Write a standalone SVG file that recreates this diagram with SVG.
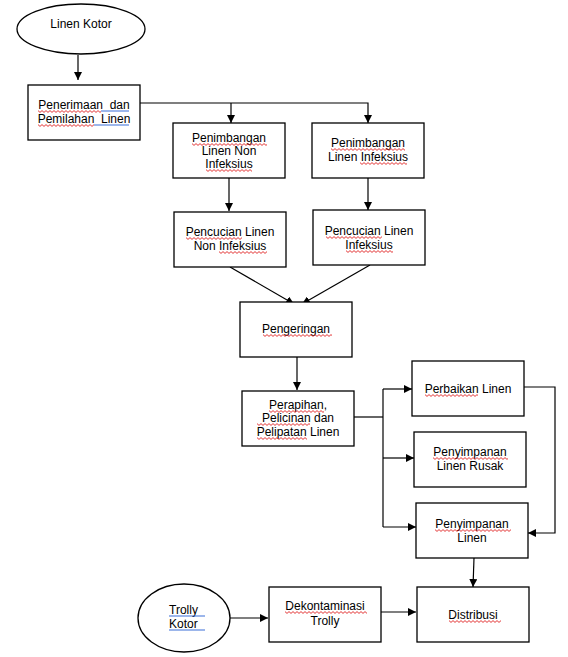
<svg xmlns="http://www.w3.org/2000/svg" width="568" height="657" viewBox="0 0 568 657">
<style>
.n{fill:#fff;stroke:#000;stroke-width:1.3}
.t{font-family:"Liberation Sans",Arial,sans-serif;font-size:12px;fill:#000;text-anchor:middle}
.l{text-anchor:start}
.c{fill:none;stroke:#000;stroke-width:1.2}
.b{stroke:#3a6fd8;stroke-width:1.2}
</style>
<defs>
<marker id="a" viewBox="0 0 10 10" refX="10" refY="5" markerWidth="8" markerHeight="8" markerUnits="userSpaceOnUse" orient="auto">
<path d="M0,0L10,5L0,10z" fill="#000"/>
</marker>
<pattern id="w" patternUnits="userSpaceOnUse" width="4" height="3">
<path d="M0,0.6L2,2.4L4,0.6" fill="none" stroke="#e02020" stroke-width="0.9"/>
</pattern>
</defs>
<rect width="568" height="657" fill="#fff"/>
<g id="connectors">
<path class="c" d="M78,55V80" marker-end="url(#a)"/>
<path class="c" d="M140,103H368V123" marker-end="url(#a)"/>
<path class="c" d="M231,103V123" marker-end="url(#a)"/>
<path class="c" d="M229,178V211" marker-end="url(#a)"/>
<path class="c" d="M368,178V210" marker-end="url(#a)"/>
<path class="c" d="M230,267L294,304" marker-end="url(#a)"/>
<path class="c" d="M370,265L302,304" marker-end="url(#a)"/>
<path class="c" d="M297,357V390" marker-end="url(#a)"/>
<path class="c" d="M354,417H383"/>
<path class="c" d="M383,389V527"/>
<path class="c" d="M383,389H412" marker-end="url(#a)"/>
<path class="c" d="M383,458H414" marker-end="url(#a)"/>
<path class="c" d="M383,527H416" marker-end="url(#a)"/>
<path class="c" d="M524,387H555V533H528" marker-end="url(#a)"/>
<path class="c" d="M474,558L473,587" marker-end="url(#a)"/>
<path class="c" d="M230,618H268" marker-end="url(#a)"/>
<path class="c" d="M381,612H416" marker-end="url(#a)"/>
</g>
<g id="linen-kotor"><ellipse class="n" cx="81" cy="29" rx="64" ry="25"/><text class="t" x="81" y="28">Linen Kotor</text></g>
<g id="penerimaan"><rect class="n" x="28" y="85" width="112" height="55"/><text class="t" x="84" y="109">Penerimaan&#160; dan</text><text class="t" x="84" y="123">Pemilahan&#160; Linen</text></g>
<g id="penimbangan-non"><rect class="n" x="173" y="123" width="112" height="55"/><text class="t" x="229" y="142">Penimbangan</text><text class="t" x="229" y="155">Linen Non</text><text class="t" x="229" y="168">Infeksius</text></g>
<g id="penimbangan-inf"><rect class="n" x="312" y="123" width="112" height="55"/><text class="t" x="368" y="147">Penimbangan</text><text class="t" x="368" y="161">Linen Infeksius</text></g>
<g id="pencucian-non"><rect class="n" x="174" y="212" width="112" height="55"/><text class="t" x="230" y="236">Pencucian Linen</text><text class="t" x="230" y="250">Non Infeksius</text></g>
<g id="pencucian-inf"><rect class="n" x="313" y="210" width="112" height="55"/><text class="t" x="369" y="235">Pencucian Linen</text><text class="t" x="369" y="249">Infeksius</text></g>
<g id="pengeringan"><rect class="n" x="240" y="302" width="112" height="55"/><text class="t" x="296" y="333">Pengeringan</text></g>
<g id="perapihan"><rect class="n" x="242" y="391" width="112" height="55"/><text class="t" x="298" y="409">Perapihan,</text><text class="t" x="298" y="422">Pelicinan dan</text><text class="t" x="298" y="436">Pelipatan Linen</text></g>
<g id="perbaikan"><rect class="n" x="412" y="361" width="112" height="55"/><text class="t" x="468" y="393">Perbaikan Linen</text></g>
<g id="penyimpanan-rusak"><rect class="n" x="414" y="432" width="112" height="55"/><text class="t" x="470" y="456">Penyimpanan</text><text class="t" x="470" y="470">Linen Rusak</text></g>
<g id="penyimpanan-linen"><rect class="n" x="416" y="503" width="112" height="55"/><text class="t" x="472" y="528">Penyimpanan</text><text class="t" x="472" y="542">Linen</text></g>
<g id="distribusi"><rect class="n" x="417" y="587" width="112" height="55"/><text class="t" x="473" y="619">Distribusi</text></g>
<g id="trolly-kotor"><ellipse class="n" cx="184" cy="618" rx="46" ry="34"/><text class="t l" x="169" y="614">Trolly</text><text class="t l" x="169" y="628">Kotor</text></g>
<g id="dekontaminasi"><rect class="n" x="269" y="587" width="112" height="55"/><text class="t" x="325" y="610">Dekontaminasi</text><text class="t" x="325" y="625">Trolly</text></g>
<g id="proofing-marks" fill="url(#w)">
<rect width="63" height="3" transform="translate(38,110)"/>
<rect width="56" height="3" transform="translate(38,124)"/>
<rect width="75" height="3" transform="translate(192,143)"/>
<rect width="46" height="3" transform="translate(206,169)"/>
<rect width="74" height="3" transform="translate(331,148)"/>
<rect width="47" height="3" transform="translate(360,162)"/>
<rect width="56" height="3" transform="translate(186,237)"/>
<rect width="48" height="3" transform="translate(219,251)"/>
<rect width="56" height="3" transform="translate(326,236)"/>
<rect width="47" height="3" transform="translate(346,250)"/>
<rect width="69" height="3" transform="translate(263,334)"/>
<rect width="55" height="3" transform="translate(269,410)"/>
<rect width="53" height="3" transform="translate(257,423)"/>
<rect width="50" height="3" transform="translate(257,437)"/>
<rect width="53" height="3" transform="translate(425,394)"/>
<rect width="75" height="3" transform="translate(433,457)"/>
<rect width="76" height="3" transform="translate(435,529)"/>
<rect width="52" height="3" transform="translate(449,620)"/>
<rect width="82" height="3" transform="translate(285,611)"/>
<path class="b" d="M101,111H129M94,125H129M169,616H205M169,630H205"/>
</g>
</svg>
